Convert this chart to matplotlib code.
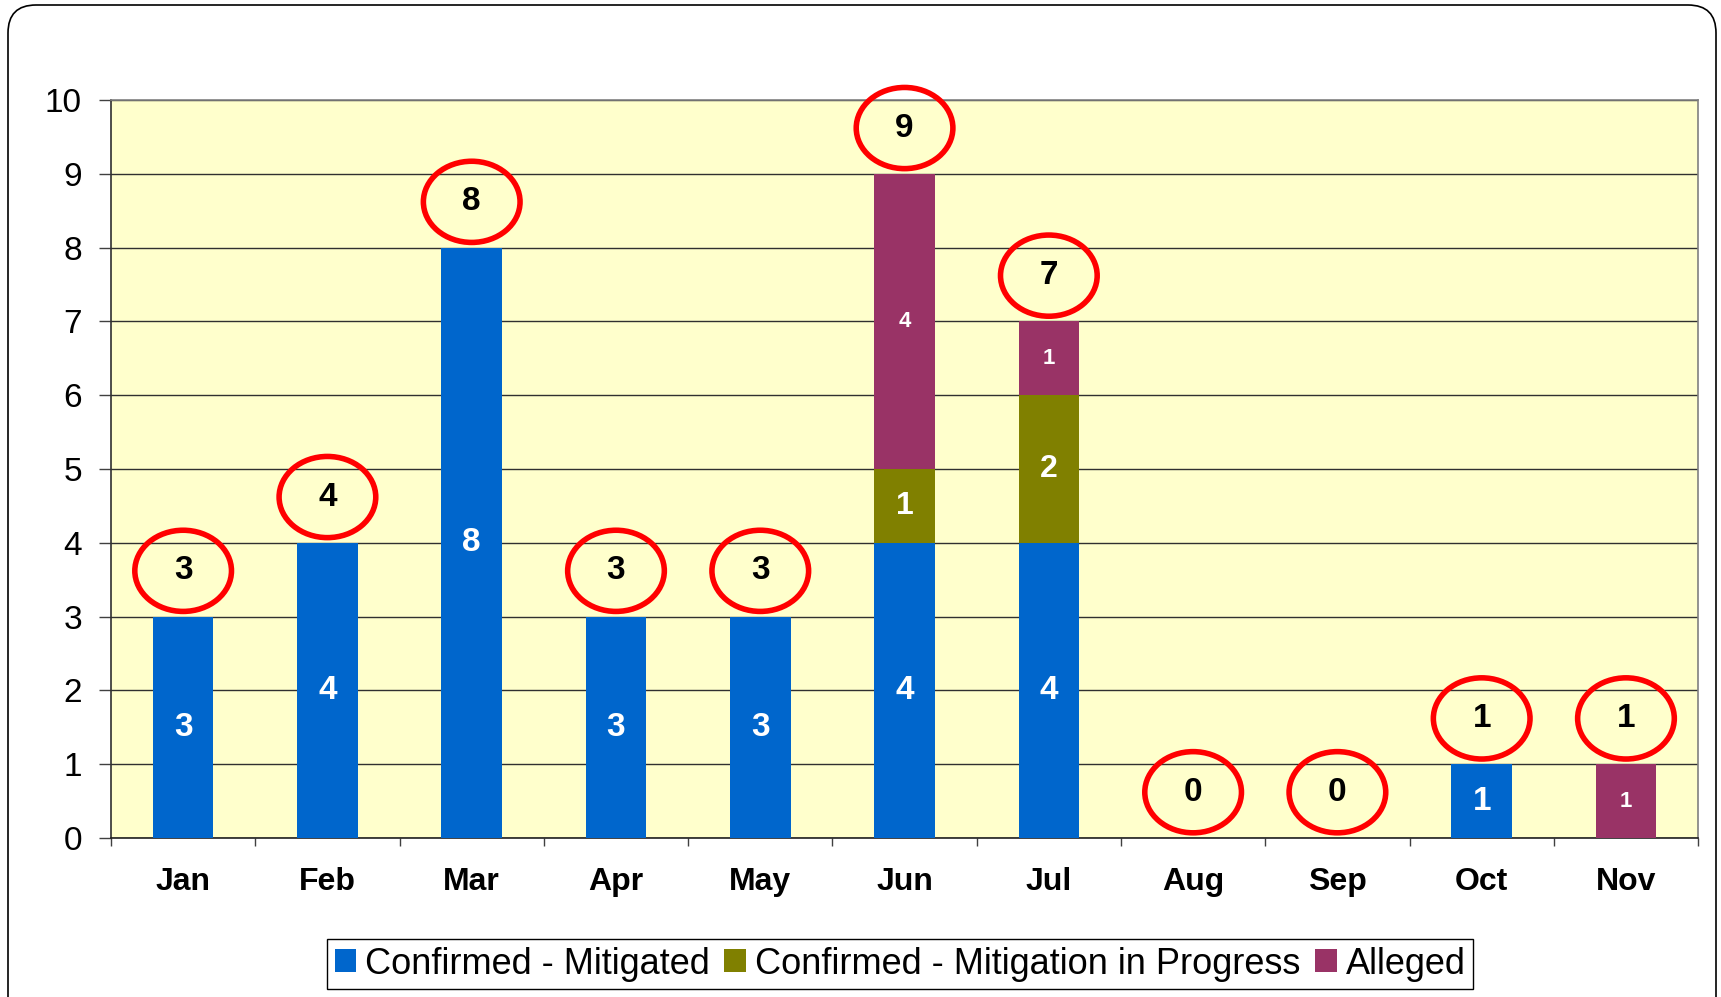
import matplotlib
matplotlib.use('Agg')
import numpy as np
import matplotlib.pyplot as plt
from matplotlib.patches import Ellipse, FancyBboxPatch, Patch
from matplotlib.transforms import IdentityTransform

# data
months = ['Jan', 'Feb', 'Mar', 'Apr', 'May', 'Jun', 'Jul', 'Aug', 'Sep', 'Oct', 'Nov']
mitigated = [3, 4, 8, 3, 3, 4, 4, 0, 0, 1, 0]
in_progress = [0, 0, 0, 0, 0, 1, 2, 0, 0, 0, 0]
alleged = [0, 0, 0, 0, 0, 4, 1, 0, 0, 0, 1]
series_names = ['Confirmed - Mitigated', 'Confirmed - Mitigation in Progress', 'Alleged']
colors = ['#0066CC', '#808000', '#993366']
yticks = list(range(0, 11))

plt.rcParams['font.family'] = ['Liberation Sans', 'DejaVu Sans']

fig = plt.figure(figsize=(17.21, 9.97), dpi=100)
ax = fig.add_axes([0.0645, 0.1595, 0.9222, 0.7402])
ax.set_facecolor('#FFFFCC')

x = np.arange(len(months))
bottoms = np.zeros(len(months))
label_sizes = [24, 23, 16]
for vals, col, name, fs in zip([mitigated, in_progress, alleged], colors, series_names, label_sizes):
    vals = np.array(vals)
    ax.bar(x, vals, width=0.42, bottom=bottoms, color=col, label=name, zorder=3)
    for xi, v, b in zip(x, vals, bottoms):
        if v > 0:
            ax.text(xi, b + v / 2, str(v), ha='center', va='center', color='white',
                    fontweight='bold', fontsize=fs, zorder=4)
    bottoms = bottoms + vals

# totals in red circles
for xi, t in zip(x, bottoms):
    ax.add_patch(Ellipse((xi, t + 0.62), 0.67, 1.1, fill=False, ec='#FF0000', lw=4,
                         zorder=5, clip_on=False))
    ax.text(xi, t + 0.62, str(int(t)), ha='center', va='center', color='black',
            fontweight='bold', fontsize=24, zorder=6)

ax.set_xlim(-0.5, len(months) - 0.5)
ax.set_ylim(0, 10)
ax.set_yticks(yticks)
ax.set_yticklabels([str(v) for v in yticks], fontsize=24)
ax.tick_params(axis='y', direction='out', length=9, width=1, color='#404040', pad=12)
ax.set_xticks(x)
ax.set_xticklabels(months, fontsize=23, fontweight='bold')
ax.set_xticks(np.arange(-0.5, len(months)), minor=True)
ax.tick_params(axis='x', which='major', length=0, pad=21)
ax.tick_params(axis='x', which='minor', direction='out', length=6, width=1, color='#404040')
ax.grid(axis='y', color='#303030', lw=1, zorder=1)
ax.set_axisbelow(True)

ax.spines['left'].set_color('#303030')
ax.spines['bottom'].set_color('#202020')
ax.spines['top'].set_color('#808080')
ax.spines['right'].set_color('#808080')
for s in ax.spines.values():
    s.set_linewidth(1.2)

handles = [Patch(facecolor=c, label=n) for c, n in zip(colors, series_names)]
leg = fig.legend(handles=handles, loc='center', bbox_to_anchor=(0.523, 0.033), ncol=3,
                 fontsize=26, frameon=True, fancybox=False, edgecolor='black', framealpha=1,
                 handlelength=0.6, handleheight=0.6, handletextpad=0.25,
                 columnspacing=0.4, borderpad=0.2)
leg.get_frame().set_linewidth(1.0)

# rounded outer frame (pixel coords)
frame = FancyBboxPatch((8, -50), 1708, 1042, boxstyle='round,pad=0,rounding_size=28',
                       transform=IdentityTransform(), fill=False, ec='black', lw=1.2)
fig.add_artist(frame)

fig.savefig('out.png', dpi=100)
